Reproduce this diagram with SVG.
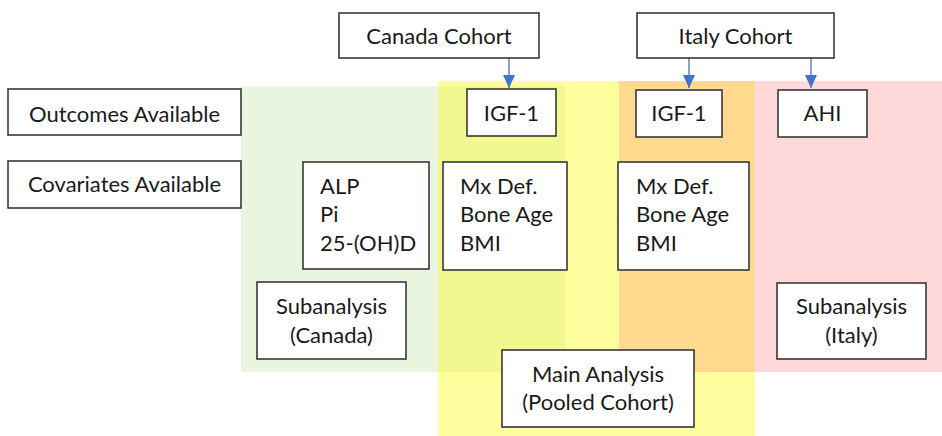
<svg xmlns="http://www.w3.org/2000/svg" width="942" height="436" viewBox="0 0 942 436">
  <defs>
    <marker id="arrow" viewBox="0 0 13 12" refX="13" refY="6" markerWidth="13" markerHeight="12" markerUnits="userSpaceOnUse" orient="auto">
      <path d="M0,0 L13,6 L0,12 Z" fill="#4472C4"/>
    </marker>
    <style>
      .box { fill: #ffffff; stroke: #2b2b2b; stroke-width: 1.5; }
      .t { font-family: Lato, "Noto Sans", "Liberation Sans", sans-serif; font-size: 22px; fill: #1a1a1a; }
      .c { text-anchor: middle; }
      .link { stroke: #4472C4; stroke-width: 1.3; fill: none; marker-end: url(#arrow); }
    </style>
  </defs>

  <rect width="942" height="436" fill="#ffffff"/>

  <!-- cohort regions -->
  <g id="regions">
    <rect x="241" y="86" width="197" height="286" fill="#E9F5DF"/>
    <rect x="438" y="81" width="181" height="355" fill="#FFFFA0"/>
    <rect x="438" y="86" width="127" height="286" fill="#F2F890"/>
    <rect x="619" y="81" width="136" height="291" fill="#FFD98E"/>
    <rect x="755" y="81" width="187" height="291" fill="#FFD9D9"/>
    <rect x="619" y="372" width="136" height="64" fill="#FFFFA0"/>
  </g>

  <!-- connectors -->
  <g id="connectors">
    <line class="link" x1="509" y1="58" x2="509" y2="88"/>
    <line class="link" x1="689" y1="58" x2="689" y2="88"/>
    <line class="link" x1="811" y1="58" x2="811" y2="88"/>
  </g>

  <g id="canada-cohort">
    <rect class="box" x="339" y="13" width="200" height="45"/>
    <text class="t c" x="439" y="44">Canada Cohort</text>
  </g>
  <g id="italy-cohort">
    <rect class="box" x="637" y="13" width="197" height="45"/>
    <text class="t c" x="735.5" y="44">Italy Cohort</text>
  </g>

  <g id="outcomes-available">
    <rect class="box" x="8" y="89" width="233" height="46"/>
    <text class="t c" x="124.5" y="122">Outcomes Available</text>
  </g>
  <g id="covariates-available">
    <rect class="box" x="8" y="161" width="233" height="47"/>
    <text class="t c" x="124.5" y="192">Covariates Available</text>
  </g>

  <g id="canada-igf1">
    <rect class="box" x="467" y="89" width="89" height="47"/>
    <text class="t c" x="511.5" y="121">IGF-1</text>
  </g>
  <g id="italy-igf1">
    <rect class="box" x="636" y="90" width="86" height="47"/>
    <text class="t c" x="679" y="121">IGF-1</text>
  </g>
  <g id="italy-ahi">
    <rect class="box" x="778" y="90" width="89" height="47"/>
    <text class="t c" x="822.5" y="121">AHI</text>
  </g>

  <g id="canada-lab-covariates">
    <rect class="box" x="303" y="162" width="126" height="107"/>
    <text class="t" x="320" y="194">ALP</text>
    <text class="t" x="320" y="222">Pi</text>
    <text class="t" x="320" y="251">25-(OH)D</text>
  </g>
  <g id="canada-covariates">
    <rect class="box" x="443" y="162" width="124" height="108"/>
    <text class="t" x="460" y="194">Mx Def.</text>
    <text class="t" x="460" y="222">Bone Age</text>
    <text class="t" x="460" y="251">BMI</text>
  </g>
  <g id="italy-covariates">
    <rect class="box" x="618" y="162" width="131" height="108"/>
    <text class="t" x="636" y="194">Mx Def.</text>
    <text class="t" x="636" y="222">Bone Age</text>
    <text class="t" x="636" y="251">BMI</text>
  </g>

  <g id="subanalysis-canada">
    <rect class="box" x="257" y="282" width="149" height="77"/>
    <text class="t c" x="331.5" y="314">Subanalysis</text>
    <text class="t c" x="331.5" y="343">(Canada)</text>
  </g>
  <g id="subanalysis-italy">
    <rect class="box" x="777" y="283" width="149" height="76"/>
    <text class="t c" x="851.5" y="314">Subanalysis</text>
    <text class="t c" x="851.5" y="343">(Italy)</text>
  </g>
  <g id="main-analysis">
    <rect class="box" x="502" y="350" width="192" height="77"/>
    <text class="t c" x="598" y="382">Main Analysis</text>
    <text class="t c" x="598" y="410">(Pooled Cohort)</text>
  </g>
</svg>
